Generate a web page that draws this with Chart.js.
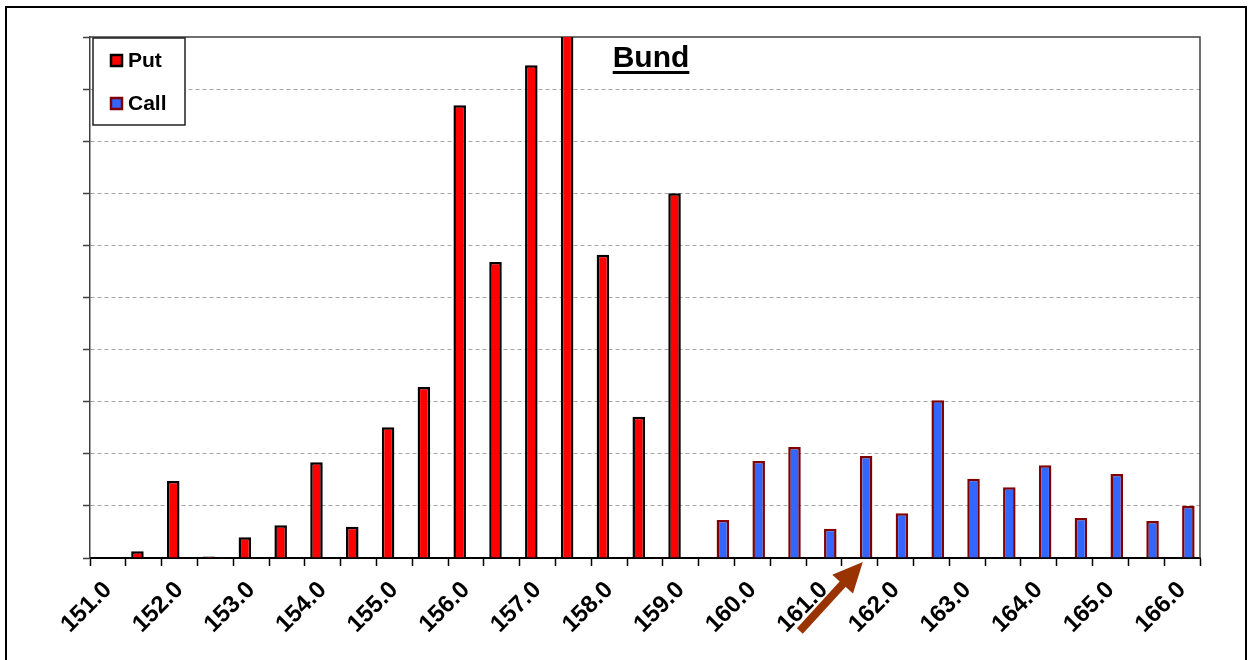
<!DOCTYPE html>
<html>
<head>
<meta charset="utf-8">
<script src="https://cdn.jsdelivr.net/npm/chart.js@4/dist/chart.umd.min.js"></script>
<style>
  body { margin: 0; background: #fff; }
  #wrap { position: relative; width: 1254px; height: 660px; overflow: hidden; }
  #frame { position: absolute; left: 5px; top: 6px; width: 1238px; height: 700px; border: 2px solid #000; pointer-events: none; }
  canvas { position: absolute; left: 0; top: 0; }
</style>
</head>
<body>
<div id="wrap">
  <canvas id="myChart" width="1254" height="660"></canvas>
  <div id="frame"></div>
</div>
<script>
const strikes = ['151.0', '151.5', '152.0', '152.5', '153.0', '153.5', '154.0', '154.5',
  '155.0', '155.5', '156.0', '156.5', '157.0', '157.5', '158.0', '158.5', '159.0',
  '159.5', '160.0', '160.5', '161.0', '161.5', '162.0', '162.5', '163.0', '163.5',
  '164.0', '164.5', '165.0', '165.5', '166.0'];
const putValues = [null, 0.13, 1.48, 0.03, 0.4, 0.63, 1.84, 0.6, 2.51, 3.28, 8.69, 5.68,
  9.46, 10.6, 5.82, 2.71, 7.0, null, null, null, null, null, null, null, null, null,
  null, null, null, null, null];
const callValues = [null, null, null, null, null, null, null, null, null, null, null, null,
  null, null, null, null, null, 0.73, 1.86, 2.13, 0.56, 1.96, 0.86, 3.03, 1.52, 1.36,
  1.78, 0.77, 1.61, 0.71, 1.0];
const seriesNames = ['Put', 'Call'];
const chartTitle = 'Bund';
const arrowAt = '161.5';

const FONT = '"Liberation Sans", Arial, sans-serif';
const putFill = '#ff0000', putBorder = '#000000';
const callFill = '#3366ff', callBorder = '#800000';

// frame of the plot area (top + right sides are solid, like excel)
const plotFrame = {
  id: 'plotFrame',
  beforeDatasetsDraw(chart) {
    const a = chart.chartArea, c = chart.ctx;
    c.save();
    c.strokeStyle = '#404040';
    c.lineWidth = 1.5;
    c.beginPath();
    c.moveTo(a.left, a.top);
    c.lineTo(a.right, a.top);
    c.lineTo(a.right, a.bottom);
    c.stroke();
    c.restore();
  }
};

// legend box, title and arrow drawn inside the plot
const extras = {
  id: 'extras',
  afterDraw(chart) {
    const a = chart.chartArea, c = chart.ctx;
    c.save();
    // legend
    const lx = a.left + 3, ly = a.top + 1;
    c.fillStyle = '#fff';
    c.fillRect(lx, ly, 92, 87);
    c.strokeStyle = '#202020';
    c.lineWidth = 1.5;
    c.strokeRect(lx, ly, 92, 87);
    c.font = 'bold 21px ' + FONT;
    c.textBaseline = 'middle';
    chart.data.datasets.forEach((ds, i) => {
      const my = ly + 22 + i * 43;
      c.fillStyle = ds.backgroundColor;
      c.fillRect(lx + 18, my - 5, 11, 11);
      c.strokeStyle = ds.borderColor;
      c.lineWidth = 2.5;
      c.strokeRect(lx + 18, my - 5, 11, 11);
      c.fillStyle = '#000';
      c.textAlign = 'left';
      c.fillText(ds.label, lx + 35, my + 1);
    });
    // title
    const tx = (a.left + a.right) / 2 + 6, ty = a.top + 22;
    c.font = 'bold 30px ' + FONT;
    c.textAlign = 'center';
    c.fillStyle = '#000';
    c.fillText(chartTitle, tx, ty);
    const tw = c.measureText(chartTitle).width;
    c.fillRect(tx - tw / 2, ty + 12, tw, 3);
    // arrow
    const xs = chart.scales.x;
    const tipX = xs.getPixelForValue(strikes.indexOf(arrowAt)) + 3;
    const tipY = a.bottom + 4;
    const tailX = tipX - 63, tailY = tipY + 69;
    const ang = Math.atan2(tipY - tailY, tipX - tailX);
    const headLen = 30, headW = 14;
    const bx = tipX - headLen * Math.cos(ang), by = tipY - headLen * Math.sin(ang);
    c.strokeStyle = '#993300';
    c.fillStyle = '#993300';
    c.lineWidth = 8;
    c.beginPath();
    c.moveTo(tailX, tailY);
    c.lineTo(bx + 4 * Math.cos(ang), by + 4 * Math.sin(ang));
    c.stroke();
    c.beginPath();
    c.moveTo(tipX, tipY);
    c.lineTo(bx + headW * Math.sin(ang), by - headW * Math.cos(ang));
    c.lineTo(bx - headW * Math.sin(ang), by + headW * Math.cos(ang));
    c.closePath();
    c.fill();
    c.restore();
  }
};

let ctx = document.getElementById('myChart').getContext('2d');
let chart = new Chart(ctx, {
  type: 'bar',
  data: {
    labels: strikes,
    datasets: [{
      label: seriesNames[0],
      data: putValues,
      backgroundColor: putFill,
      borderColor: putBorder,
      borderWidth: 2.5,
      borderSkipped: 'start',
      categoryPercentage: 0.7,
      barPercentage: 1.0
    }, {
      label: seriesNames[1],
      data: callValues,
      backgroundColor: callFill,
      borderColor: callBorder,
      borderWidth: 2.5,
      borderSkipped: 'start',
      categoryPercentage: 0.7,
      barPercentage: 1.0
    }]
  },
  options: {
    responsive: false,
    animation: false,
    devicePixelRatio: 1,
    layout: { padding: { left: 70, right: 54, top: 37, bottom: 0 } },
    plugins: {
      legend: { display: false },
      tooltip: { enabled: false }
    },
    scales: {
      x: {
        afterFit: (s) => { s.height = 102; },
        grid: {
          display: true,
          drawOnChartArea: false,
          drawTicks: true,
          tickLength: 8,
          tickColor: '#000',
          tickWidth: 1.5
        },
        border: { display: true, color: '#000', width: 2 },
        ticks: {
          autoSkip: false,
          minRotation: 45,
          maxRotation: 45,
          padding: 10,
          color: '#000',
          font: { family: FONT, size: 24, weight: 'bold' },
          callback: function (val, i) { return i % 2 === 0 ? this.getLabelForValue(val) : ''; }
        }
      },
      y: {
        min: 0,
        max: 10,
        afterFit: (s) => { s.width = 20; },
        ticks: { display: false, stepSize: 1 },
        grid: {
          color: (c) => (c.tick && (c.tick.value === 0 || c.tick.value === 10)) ? 'rgba(0,0,0,0)' : '#a6a6a6',
          lineWidth: 1,
          tickLength: 7,
          tickColor: '#404040',
          tickWidth: 1.5
        },
        border: { display: true, color: '#404040', width: 1.5, dash: [4, 3] }
      }
    }
  },
  plugins: [plotFrame, extras]
});
</script>
</body>
</html>
